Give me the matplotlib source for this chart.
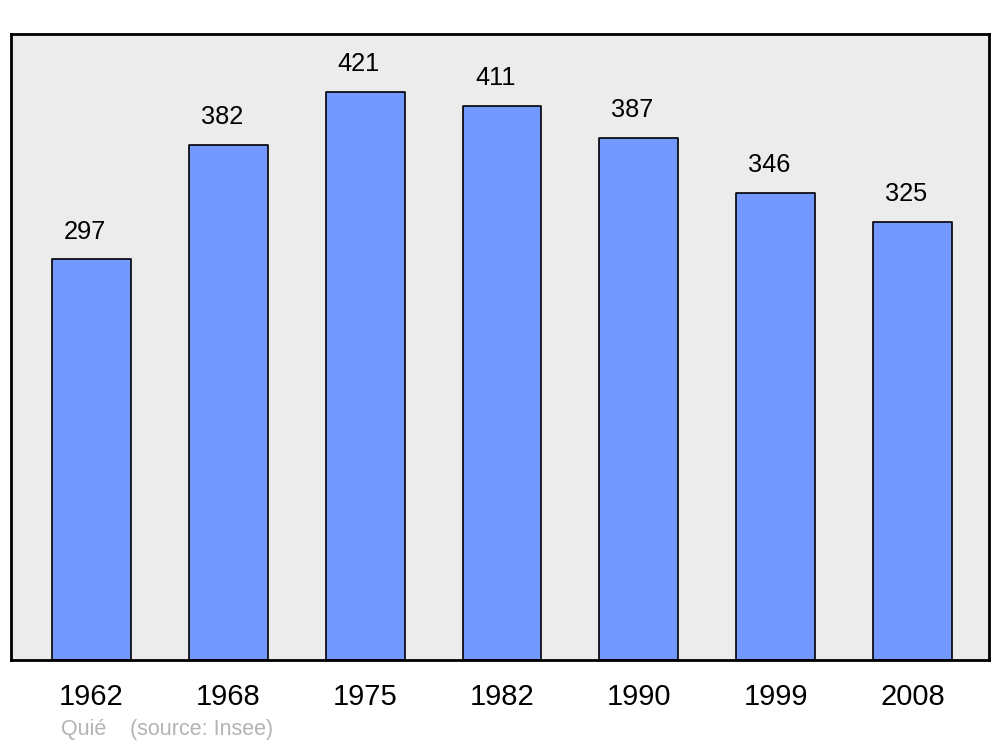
import matplotlib
matplotlib.use("Agg")
import matplotlib.pyplot as plt

years = ["1962", "1968", "1975", "1982", "1990", "1999", "2008"]
population = [297, 382, 421, 411, 387, 346, 325]
commune = "Quié"
source = "(source: Insee)"

plt.rcParams['font.family'] = ['Liberation Sans', 'DejaVu Sans']

fig = plt.figure(figsize=(10, 7.47), dpi=100)
ax = fig.add_axes([11/1000, 1 - 660/747, 978/1000, 626/747])
ax.set_facecolor("#ececec")

x = list(range(len(years)))
ax.bar(x, population, width=0.577, color="#7399ff", edgecolor="black",
       linewidth=1.2, joinstyle="round", zorder=2)

# value labels sit a little left of the bar centre in the original
for xi, v in zip(x, population):
    ax.annotate(str(v), (xi, v), xytext=(-4.5, 20), textcoords="offset points",
                ha="center", va="center", fontsize=18.3)

for xi, y in zip(x, years):
    ax.text(xi, -0.059, y, transform=ax.get_xaxis_transform(),
            ha="center", va="center", fontsize=21)

ax.set_xlim(-0.588, 6.559)
ax.set_ylim(0, 464)
ax.set_xticks([])
ax.set_yticks([])
for s in ax.spines.values():
    s.set_linewidth(2)
    s.set_color("black")

fig.text(61/1000, 1 - 730/747, commune, color="#b3b3b3", fontsize=15.5, va="center")
fig.text(130/1000, 1 - 730/747, source, color="#b3b3b3", fontsize=15.5, va="center")

fig.savefig("out.png", dpi=100)
